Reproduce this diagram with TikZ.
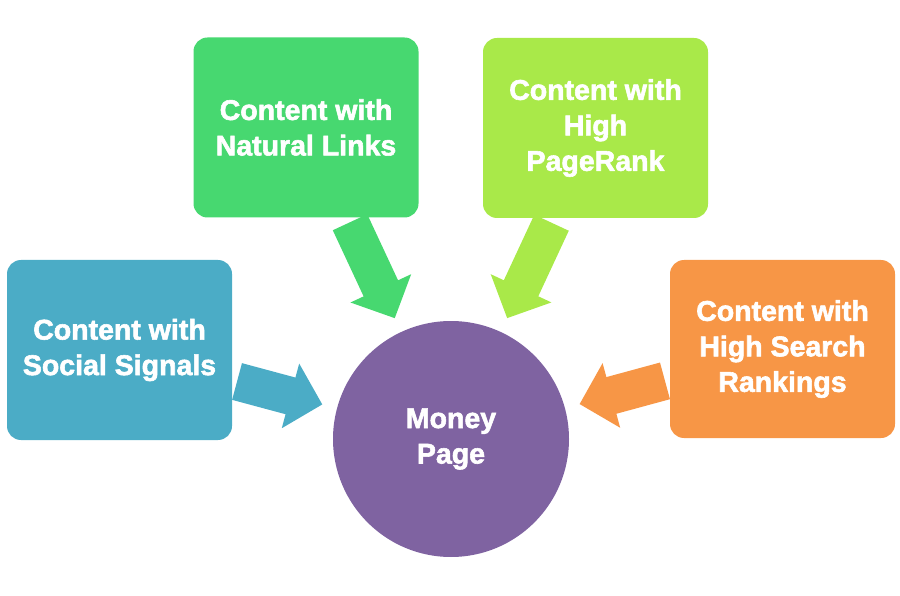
\documentclass[tikz,border=0pt]{standalone}
\usepackage{fontspec}
\usetikzlibrary{arrows.meta}
\newfontfamily\lblfont{Liberation Sans}[BoldFeatures={FakeBold=2}]
\definecolor{cblue}{HTML}{4BACC6}
\definecolor{cgreen}{HTML}{47D870}
\definecolor{clime}{HTML}{A9E949}
\definecolor{corange}{HTML}{F79646}
\definecolor{cpurple}{HTML}{7F63A1}
\tikzset{
  lbl/.style={text=white, align=center, font=\lblfont\bfseries\fontsize{28.5}{35.5}\selectfont},
  card/.style={lbl, rounded corners=14pt, minimum width=225pt, minimum height=180pt, inner sep=0pt},
  hub/.style={lbl, circle, minimum size=236pt, inner sep=0pt},
  fatarrow/.style={line width=38pt, shorten >=15pt, shorten <=5pt,
    -{Triangle[width=65pt,length=33pt]}}
}
\begin{document}
\begin{tikzpicture}[x=1pt,y=-1pt]
\useasboundingbox (0,0) rectangle (900,596);
\node[card, fill=cblue] (social) at (119.5,350) {Content with\\Social Signals};
\node[card, fill=cgreen] (natural) at (306,127.5) {Content with\\Natural Links};
\node[card, fill=clime] (rank) at (595.5,128) {Content with\\High\\PageRank};
\node[card, fill=corange, minimum height=178pt] (search) at (782.5,349) {Content with\\High Search\\Rankings};
\node[hub, fill=cpurple] (money) at (451,439) {Money\\Page};
\draw[fatarrow, cblue] (social) -- (money);
\draw[fatarrow, cgreen] (natural) -- (money);
\draw[fatarrow, clime] (rank) -- (money);
\draw[fatarrow, corange] (search) -- (money);
\end{tikzpicture}
\end{document}
